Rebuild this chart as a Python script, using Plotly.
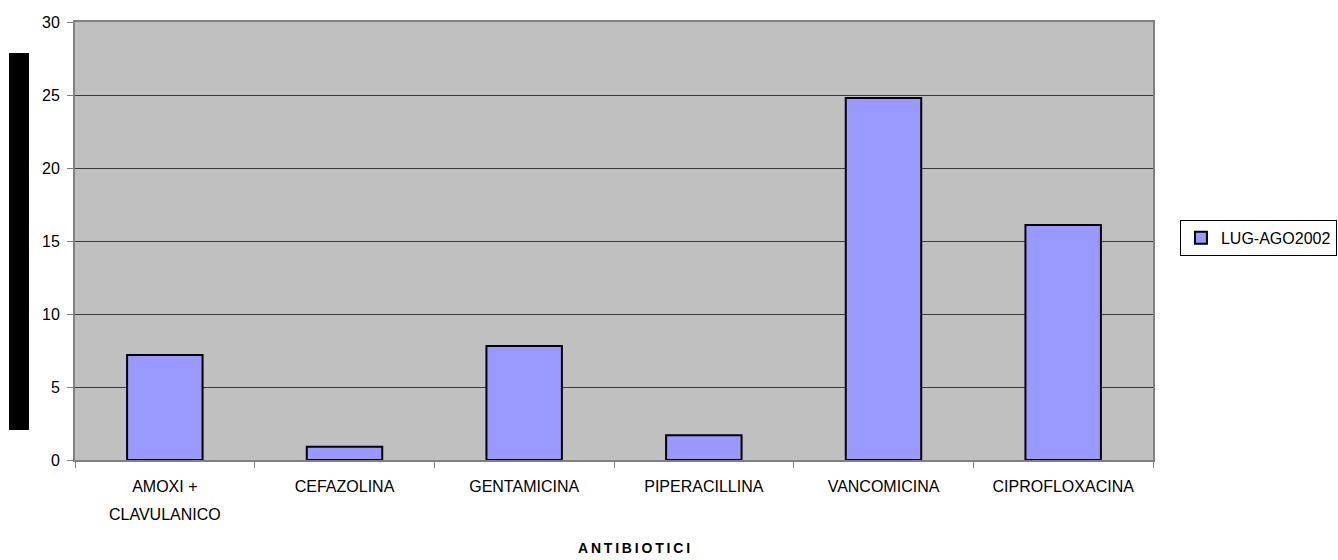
import plotly.graph_objects as go

# Antibiotic consumption, July–August 2002
categories = ["AMOXI + CLAVULANICO", "CEFAZOLINA", "GENTAMICINA",
              "PIPERACILLINA", "VANCOMICINA", "CIPROFLOXACINA"]
# first line of each category label; the long name wraps onto a second line
label_line1 = ["AMOXI +", "CEFAZOLINA", "GENTAMICINA",
               "PIPERACILLINA", "VANCOMICINA", "CIPROFLOXACINA"]
label_line2 = ["CLAVULANICO", "", "", "", "", ""]
values = [7.2, 0.9, 7.8, 1.7, 24.8, 16.1]
series_name = "LUG-AGO2002"
y_ticks = [0, 5, 10, 15, 20, 25, 30]
x_title = "ANTIBIOTICI"

FONT = "Arial, Liberation Sans, sans-serif"

fig = go.Figure()
fig.add_trace(go.Bar(
    x=categories,
    y=values,
    name=series_name,
    marker=dict(color="#9999FF", line=dict(color="black", width=2)),
    showlegend=True,
))

fig.update_layout(
    width=1338,
    height=560,
    margin=dict(l=75, r=185, t=22, b=100, autoexpand=False),
    paper_bgcolor="white",
    plot_bgcolor="#C0C0C0",
    font=dict(family=FONT, size=16, color="black"),
    bargap=0.58,
    legend=dict(
        x=1.025, y=0.507, xanchor="left", yanchor="middle",
        bgcolor="white", bordercolor="black", borderwidth=1,
        font=dict(family=FONT, size=16, color="black"),
        itemwidth=30,
    ),
    xaxis=dict(
        type="category",
        tickson="boundaries",
        tickmode="array",
        tickvals=categories,
        ticktext=label_line1,
        ticks="outside",
        ticklen=6,
        tickcolor="#808080",
        showline=True,
        linecolor="#808080",
        linewidth=2,
        mirror=True,
        showgrid=False,
        ticklabelstandoff=11,
        tickfont=dict(family=FONT, size=16),
    ),
    yaxis=dict(
        range=[0, 30],
        tickvals=y_ticks,
        ticks="outside",
        ticklen=6,
        tickcolor="#808080",
        showline=True,
        linecolor="#808080",
        linewidth=2,
        mirror=True,
        showgrid=True,
        gridcolor="#3a3a3a",
        gridwidth=1,
        zeroline=False,
        ticklabelstandoff=4,
        tickfont=dict(family=FONT, size=16),
    ),
)

# Second line of wrapped category labels
for cat, line2 in zip(categories, label_line2):
    if line2:
        fig.add_annotation(
            x=cat, xref="x", y=0, yref="paper",
            text=line2, showarrow=False,
            yanchor="top", yshift=-44,
            font=dict(family=FONT, size=16, color="black"),
        )

# Letter-spaced bold axis title
fig.add_annotation(
    x=0.519, xref="paper", y=0, yref="paper",
    text="<b>" + "\u2009".join(x_title) + "</b>",
    showarrow=False, xanchor="center", yanchor="middle", yshift=-88,
    font=dict(family=FONT, size=14, color="black"),
)

# Solid black block standing in for the vertical axis title
fig.add_shape(
    type="rect", xref="paper", yref="paper",
    x0=-0.0612, x1=-0.0427, y0=0.0685, y1=0.929,
    fillcolor="black", line=dict(width=0),
)

fig.write_html("out.html")
